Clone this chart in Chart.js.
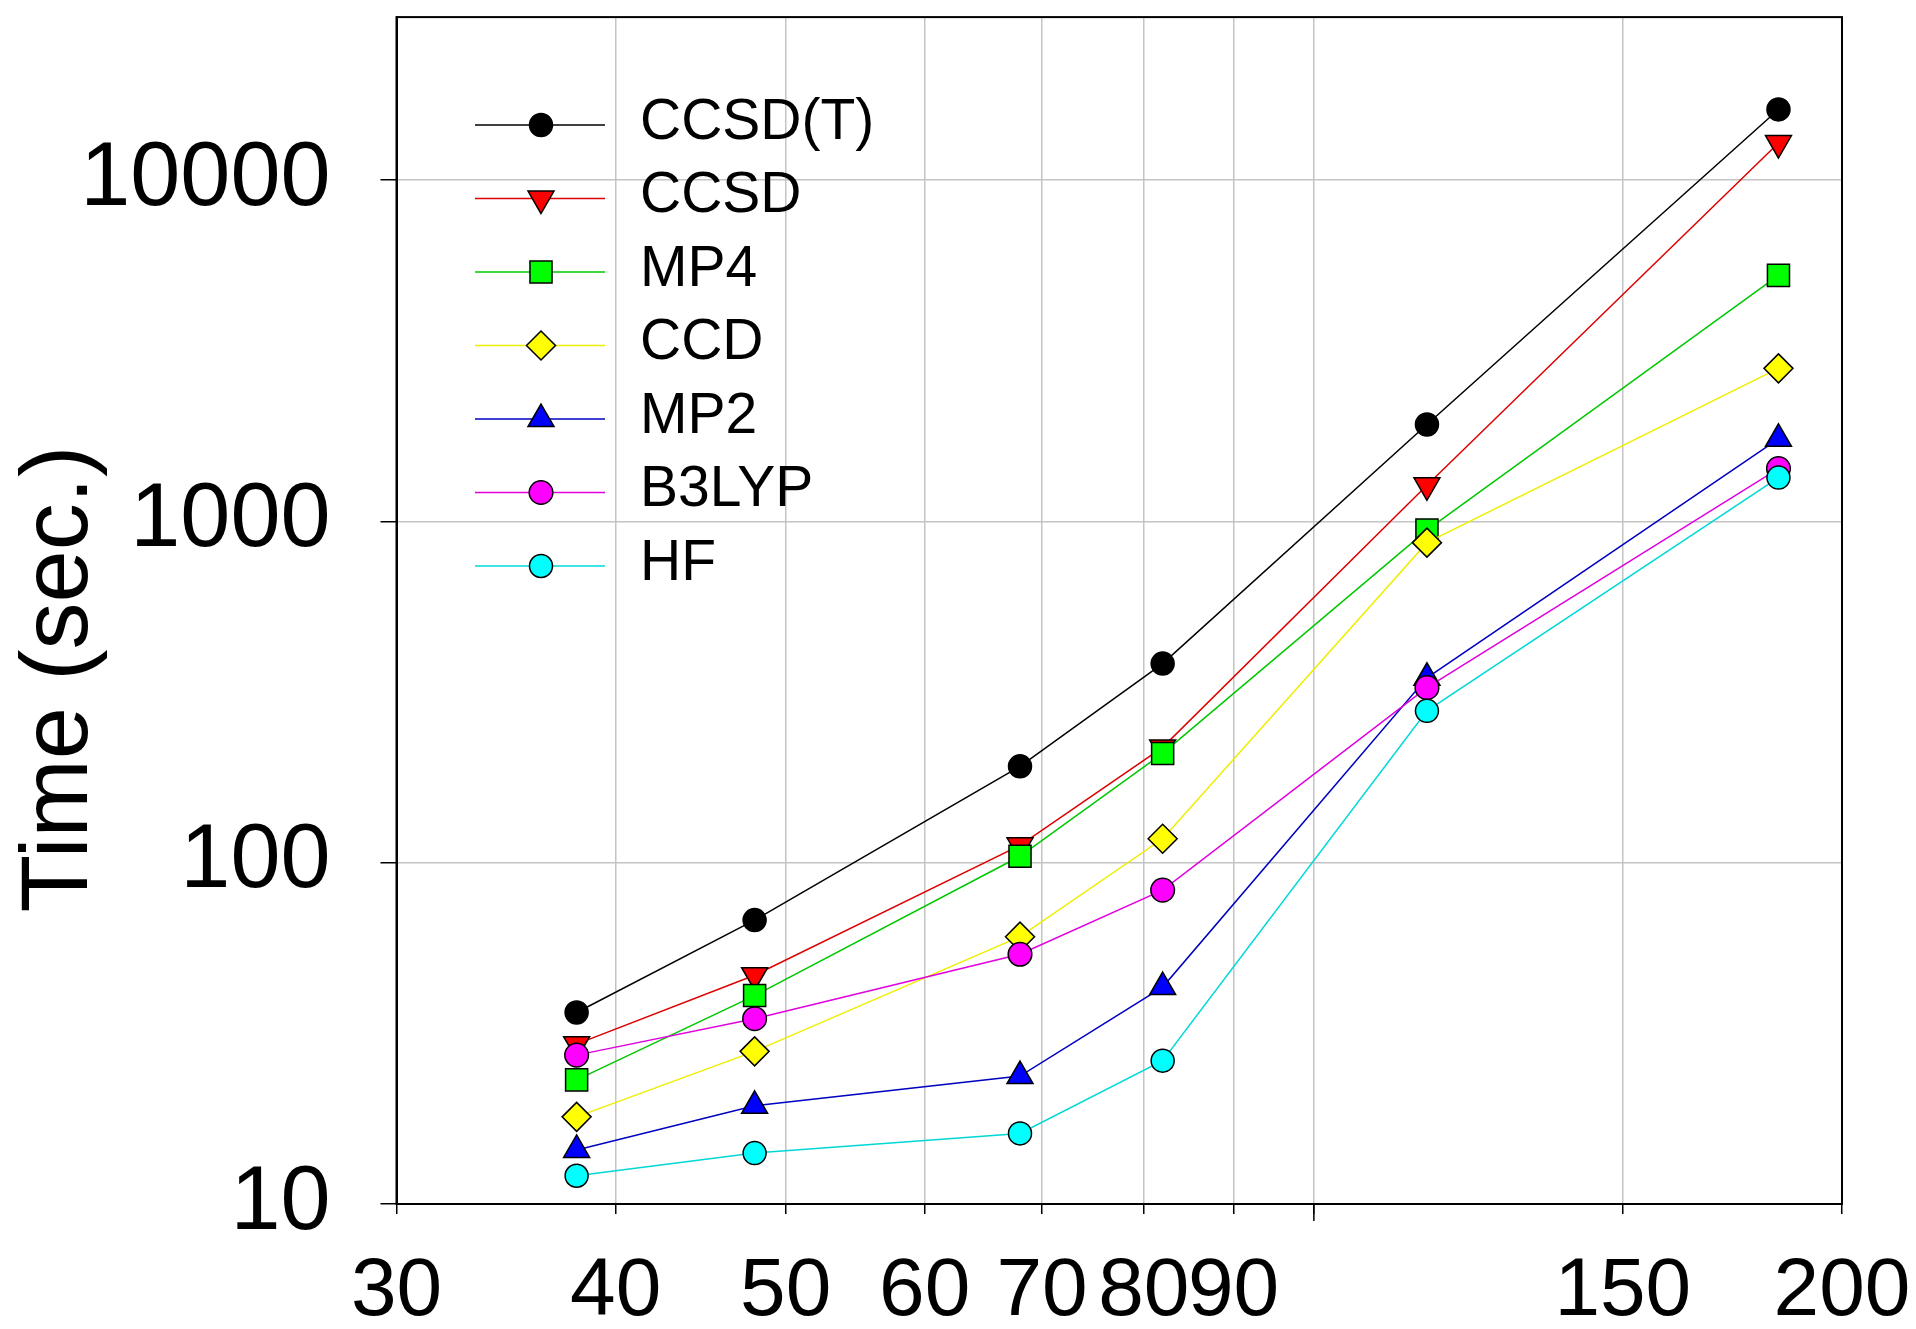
<!DOCTYPE html>
<html><head><meta charset="utf-8">
<script src="https://cdn.jsdelivr.net/npm/chart.js@4.4.1/dist/chart.umd.min.js"></script>
<style>html,body{margin:0;padding:0;background:#fff;overflow:hidden}#wrap{width:1916px;height:1329px;position:relative;background:#fff}</style>
</head><body><div id="wrap"><canvas id="c" width="1916" height="1329"></canvas></div>
<script>
// ---- data ----
const basisFunctions = [38, 48, 68, 82, 116, 184];
const seriesNames = ['CCSD(T)', 'CCSD', 'MP4', 'CCD', 'MP2', 'B3LYP', 'HF'];
const timeCCSDT = [36.4, 67.9, 191.5, 383, 1921, 16090];
const timeCCSD  = [29.4, 46.8, 112.4, 217.6, 1275, 12830];
const timeMP4   = [23.1, 40.8, 104.4, 208.9, 942.6, 5253];
const timeCCD   = [18.0, 28.0, 60.7, 117.5, 866, 2806];
const timeMP2   = [14.4, 19.4, 23.7, 43.2, 348, 1745];
const timeB3LYP = [27.3, 34.9, 53.9, 83.1, 325.6, 1427];
const timeHF    = [12.1, 14.1, 16.1, 26.3, 278.4, 1343];
const xTickValues = [30, 40, 50, 60, 70, 80, 90, 100, 150, 200];
const xTickLabels = ['30', '40', '50', '60', '70', '80', '90', '', '150', '200'];
const yTickValues = [10, 100, 1000, 10000];
const yTickLabels = ['10', '100', '1000', '10000'];
const yAxisTitle = 'Time (sec.)';

// ---- styles ----
const FONT = '"Liberation Sans", Arial, Helvetica, sans-serif';
const seriesValues = [timeCCSDT, timeCCSD, timeMP4, timeCCD, timeMP2, timeB3LYP, timeHF];
const lineColors = ['#000000', '#dd0000', '#00c800', '#eeee00', '#0000c0', '#e000e0', '#00d8d8'];
const fillColors = ['#000000', '#ff0000', '#00ff00', '#ffff00', '#0000ff', '#ff00ff', '#00ffff'];
const styles = [
  {pointStyle: 'circle', radius: 11.5, rotation: 0},
  {pointStyle: 'triangle', radius: 15, rotation: 180},
  {pointStyle: 'rect', radius: 15.6, rotation: 0},
  {pointStyle: 'rectRot', radius: 14.5, rotation: 0},
  {pointStyle: 'triangle', radius: 15, rotation: 0},
  {pointStyle: 'circle', radius: 11.8, rotation: 0},
  {pointStyle: 'circle', radius: 11.5, rotation: 0}
];

const datasets = seriesNames.map((name, i) => ({
  label: name,
  data: basisFunctions.map((x, j) => ({x: x, y: seriesValues[i][j]})),
  borderColor: lineColors[i],
  borderWidth: 1.5,
  backgroundColor: fillColors[i],
  pointBackgroundColor: fillColors[i],
  pointBorderColor: '#000',
  pointBorderWidth: 1.5,
  pointStyle: styles[i].pointStyle,
  pointRadius: styles[i].radius,
  pointRotation: styles[i].rotation,
  pointHoverRadius: styles[i].radius,
  tension: 0,
  fill: false,
  clip: false,
  order: seriesNames.length - i
}));

const framePlugin = {
  id: 'frame',
  beforeDatasetsDraw(chart) {
    const a = chart.chartArea, ctx = chart.ctx;
    ctx.save();
    ctx.strokeStyle = '#000';
    ctx.lineWidth = 2;
    ctx.strokeRect(a.left, a.top, a.right - a.left, a.bottom - a.top);
    // longer major tick at 100
    const x100 = chart.scales.x.getPixelForValue(100);
    ctx.lineWidth = 1.5;
    ctx.beginPath();
    ctx.moveTo(x100, a.bottom);
    ctx.lineTo(x100, a.bottom + 17);
    ctx.stroke();
    ctx.restore();
  },
  afterDraw(chart) {
    const ctx = chart.ctx;
    // y axis title
    ctx.save();
    ctx.fillStyle = '#000';
    ctx.font = '94px ' + FONT;
    ctx.textAlign = 'center';
    ctx.textBaseline = 'alphabetic';
    ctx.translate(87, 679);
    ctx.rotate(-Math.PI / 2);
    ctx.fillText(yAxisTitle, 0, 0);
    ctx.restore();
    // legend
    ctx.save();
    chart.data.datasets.forEach((ds, i) => {
      const y = 125 + 73.5 * i;
      ctx.strokeStyle = ds.borderColor;
      ctx.lineWidth = 1.5;
      ctx.beginPath();
      ctx.moveTo(475, y);
      ctx.lineTo(605, y);
      ctx.stroke();
      ctx.fillStyle = ds.pointBackgroundColor;
      ctx.strokeStyle = '#000';
      ctx.lineWidth = 1.5;
      Chart.helpers.drawPoint(ctx, {pointStyle: ds.pointStyle, radius: ds.pointRadius, rotation: ds.pointRotation, borderWidth: 1.5}, 541, y);
      ctx.fillStyle = '#000';
      ctx.font = '57px ' + FONT;
      ctx.textAlign = 'left';
      ctx.textBaseline = 'middle';
      ctx.fillText(ds.label, 640, y - 2);
    });
    ctx.restore();
  }
};

new Chart(document.getElementById('c'), {
  type: 'line',
  data: {datasets: datasets},
  plugins: [framePlugin],
  options: {
    responsive: false,
    devicePixelRatio: 1,
    animation: false,
    events: [],
    layout: {padding: {left: 0, top: 11.5, right: 74, bottom: 0}},
    plugins: {legend: {display: false}, tooltip: {enabled: false}, title: {display: false}},
    scales: {
      x: {
        type: 'logarithmic',
        position: 'bottom',
        min: 30, max: 200,
        afterBuildTicks: s => { s.ticks = xTickValues.map(v => ({value: v})); },
        afterFit: s => { s.height = 125; s.paddingLeft = 0; s.paddingRight = 0; },
        ticks: {
          autoSkip: false, maxRotation: 0, minRotation: 0,
          color: '#000', padding: 29,
          font: {family: FONT, size: 82},
          callback: v => { const k = xTickValues.indexOf(v); return k >= 0 ? xTickLabels[k] : ''; }
        },
        grid: {
          color: c => (c.tick && (c.tick.value === 30 || c.tick.value === 200)) ? 'rgba(0,0,0,0)' : '#c4c4c4',
          lineWidth: 1.5,
          tickColor: '#000', tickLength: 10, tickWidth: 1.5, drawTicks: true
        },
        border: {color: '#000', width: 2}
      },
      y: {
        type: 'logarithmic',
        position: 'left',
        min: 10, max: 30000,
        afterBuildTicks: s => { s.ticks = yTickValues.map(v => ({value: v})); },
        afterFit: s => { s.width = 396.5; s.paddingTop = 0; s.paddingBottom = 0; },
        ticks: {
          autoSkip: false, color: '#000', padding: 50,
          font: {family: FONT, size: 90},
          callback: v => { const k = yTickValues.indexOf(v); return k >= 0 ? yTickLabels[k] : ''; }
        },
        grid: {
          color: c => (c.tick && c.tick.value === 10) ? 'rgba(0,0,0,0)' : '#c4c4c4',
          lineWidth: 1.5,
          tickColor: '#000', tickLength: 16, tickWidth: 1.5, drawTicks: true
        },
        border: {color: '#000', width: 2}
      }
    }
  }
});
</script>
</body></html>
